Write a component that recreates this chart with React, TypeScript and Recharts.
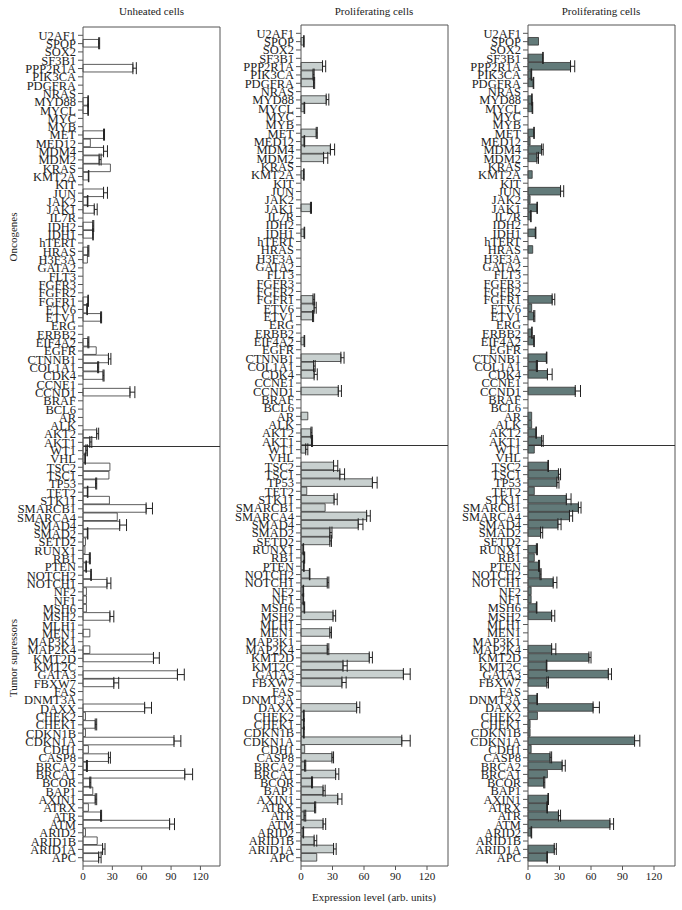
import React from "react";
import {
  BarChart,
  Bar,
  XAxis,
  YAxis,
  ErrorBar,
  ReferenceLine,
} from "recharts";

const GENES = [
  "U2AF1", "SPOP", "SOX2", "SF3B1", "PPP2R1A", "PIK3CA", "PDGFRA", "NRAS", "MYD88", "MYCL",
  "MYC", "MYB", "MET", "MED12", "MDM4", "MDM2", "KRAS", "KMT2A", "KIT", "JUN",
  "JAK2", "JAK1", "IL7R", "IDH2", "IDH1", "hTERT", "HRAS", "H3F3A", "GATA2", "FLT3",
  "FGFR3", "FGFR2", "FGFR1", "ETV6", "ETV1", "ERG", "ERBB2", "EIF4A2", "EGFR", "CTNNB1",
  "COL1A1", "CDK4", "CCNE1", "CCND1", "BRAF", "BCL6", "AR", "ALK", "AKT2", "AKT1",
  "WT1", "VHL", "TSC2", "TSC1", "TP53", "TET2", "STK11", "SMARCB1", "SMARCA4", "SMAD4",
  "SMAD2", "SETD2", "RUNX1", "RB1", "PTEN", "NOTCH2", "NOTCH1", "NF2", "NF1", "MSH6",
  "MSH2", "MLH1", "MEN1", "MAP3K1", "MAP2K4", "KMT2D", "KMT2C", "GATA3", "FBXW7", "FAS",
  "DNMT3A", "DAXX", "CHEK2", "CHEK1", "CDKN1B", "CDKN1A", "CDH1", "CASP8", "BRCA2", "BRCA1",
  "BCOR", "BAP1", "AXIN1", "ATRX", "ATR", "ATM", "ARID2", "ARID1B", "ARID1A", "APC",
];

const X_TICKS = [0, 30, 60, 90, 120];

// unheated cells
const UNHEATED = [
  0, 16, 0, 0, 51, 0, 0, 0, 5, 5,
  0, 0, 21, 7.5, 21, 16.5, 28, 5.5, 0, 21,
  4.5, 11.5, 0, 10, 10, 0, 5, 4.5, 0, 0,
  0, 0, 5, 4, 18, 0, 0, 5, 13.5, 26,
  15, 20.5, 0, 48, 0, 0, 0, 0, 14, 7,
  3, 2, 27.5, 26.5, 13, 4.5, 27, 64.5, 35, 37.5,
  4.5, 2.5, 2, 6.5, 3, 8, 24.5, 3.5, 3.5, 3.5,
  27.5, 0, 7, 0, 7, 72, 0, 96.5, 31.5, 0,
  0, 63, 2.5, 12.5, 2.5, 93, 5.5, 26, 3.5, 104,
  7, 10, 12.5, 5.5, 18, 88.5, 2.5, 14.5, 20, 16,
];
const UNHEATED_ERR = [
  0, 1, 0, 0, 3.5, 0, 0, 0, 0.5, 0.5,
  0, 0, 1, 0, 4, 2, 0, 0.5, 0, 4,
  0.5, 3, 0, 1, 0.5, 0, 1, 0, 0, 0,
  0, 0, 0.5, 0.5, 1, 0, 0, 1, 0, 2.5,
  1, 1, 0, 5, 0, 0, 0, 0, 2, 2,
  1.5, 0.5, 0, 0, 1, 0.5, 0, 6.5, 0, 7,
  0.5, 0, 0, 1, 0.5, 0.5, 4, 0, 0, 0,
  4, 0, 0, 0, 0, 6, 0, 7, 5, 0,
  0, 7, 0, 1.5, 0, 7, 0, 2, 1, 8,
  1, 0, 1.5, 0, 1, 5, 0, 0, 2.5, 2.5,
];

// proliferating cells (light)
const PROLIF_A = [
  0, 2.5, 0, 0, 20.5, 11.5, 12, 0, 24, 3,
  0, 0, 14.5, 3, 28, 21.5, 0, 2.5, 0, 0,
  0, 9, 0, 0, 3, 0, 0, 0, 0, 0,
  0, 0, 11.5, 12.5, 11, 0, 0, 3, 0, 38,
  12, 12.5, 0, 35.5, 0, 0, 6.5, 0, 9.5, 10,
  4.5, 0, 31, 37, 68, 5.5, 31.5, 23, 62.5, 54.5,
  27.5, 27.5, 2, 3, 2.5, 8, 25, 2, 2, 3,
  30.5, 0, 27.5, 0, 25, 65, 40, 97.5, 39, 0,
  0, 53, 2.5, 2.5, 2.5, 96, 3.5, 29.5, 3.5, 33,
  10, 21, 35, 13, 3, 21, 2, 12.5, 31, 15,
];
const PROLIF_A_ERR = [
  0, 0.5, 0, 0, 3, 1, 1, 0, 2.5, 0.5,
  0, 0, 1, 0.5, 4, 4, 0, 0.5, 0, 0,
  0, 1, 0, 0, 0.5, 0, 0, 0, 0, 0,
  0, 0, 1.5, 2, 1, 0, 0, 0.5, 0, 3,
  1.5, 3, 0, 3, 0, 0, 0, 0, 1, 1,
  2, 0, 4, 4.5, 4.5, 0, 3, 0, 3.5, 4.5,
  2, 1.5, 0.5, 0.5, 0.5, 0.5, 1.5, 0.5, 0.5, 0.5,
  2.5, 0, 1.5, 0, 1.5, 3, 4, 6.5, 4, 0,
  0, 3, 0.5, 0.5, 0.5, 8, 0, 1.5, 1, 3,
  1, 2, 4, 1, 1.5, 2.5, 0.5, 2.5, 2.5, 0,
];

// proliferating cells (dark)
const PROLIF_B = [
  0, 10, 0, 14, 40.5, 3, 5, 0, 3.5, 4,
  0, 0, 5.5, 2, 13, 8.5, 0, 4, 0, 31,
  2, 8.5, 2.5, 0, 7, 0, 4.5, 0, 0, 0,
  0, 0, 23, 3.5, 5.5, 0, 3.5, 5.5, 0, 17.5,
  8, 18.5, 0, 45, 0, 0, 3.5, 3.5, 7.5, 13,
  6, 0, 19, 29, 27.5, 6, 36.5, 48, 39.5, 28.5,
  12, 0, 8, 6, 10, 11.5, 24, 3, 3, 8,
  22.5, 0, 0, 0, 22.5, 58, 17.5, 76.5, 18, 0,
  8.5, 62, 9, 2, 2, 101.5, 3, 21, 32.5, 18.5,
  15, 0, 19, 18, 29, 78, 3, 0, 25, 18,
];
const PROLIF_B_ERR = [
  0, 0, 0, 0.5, 4, 0.5, 0.5, 0, 0.5, 0.5,
  0, 0, 0.5, 0, 1.5, 1.5, 0, 0, 0, 3,
  0, 0.5, 0.5, 0, 0.5, 0, 0, 0, 0, 0,
  0, 0, 2.5, 0, 1, 0, 0.5, 0.5, 0, 0.5,
  1, 4.5, 0, 5, 0, 0, 0, 0, 0.5, 1.5,
  0, 0, 0.5, 2, 2, 0, 4.5, 2.5, 3, 3,
  2, 0, 1, 0, 1, 1, 3.5, 0, 0, 0.5,
  3, 0, 0, 0, 4, 2, 0.5, 3, 1.5, 0,
  0.5, 6, 0, 0, 0, 5, 0, 1.5, 3, 0,
  1, 0, 0.5, 0.5, 2, 3.5, 0.5, 0, 2, 0.5,
];

const FONT = "'Liberation Serif', 'DejaVu Serif', serif";
const AXIS = "#555";
const TEXT = "#222";
const IDX = GENES.map((_, i) => i);

function buildRows(vals: number[], errs: number[]) {
  return GENES.map((g, i) => ({
    idx: i,
    gene: g,
    v: vals[i],
    e: errs[i] > 0 ? [0, errs[i]] : null,
  }));
}

interface PanelProps {
  vals: number[];
  errs: number[];
  fill: string;
  left: number;
  width: number;
  yWidth: number;
  top: number;
}

function Panel({ vals, errs, fill, left, width, yWidth, top }: PanelProps) {
  const rows = buildRows(vals, errs);
  return (
    <div style={{ position: "absolute", left, top: 0 }}>
      <BarChart
        width={width}
        height={890}
        data={rows}
        layout="vertical"
        margin={{ top, right: 2, left: 0, bottom: 4 }}
      >
        <XAxis
          type="number"
          dataKey="v"
          domain={[0, 140]}
          ticks={X_TICKS}
          height={20}
          tickSize={4}
          stroke={AXIS}
          tick={{ fill: TEXT, fontSize: 11, fontFamily: FONT }}
        />
        <YAxis
          type="number"
          dataKey="idx"
          domain={[-1, 100]}
          ticks={IDX}
          interval={0}
          width={yWidth}
          tickSize={5}
          stroke={AXIS}
          tickFormatter={(i: number) => GENES[i] ?? ""}
          tick={{ fill: TEXT, fontSize: 12.5, fontFamily: FONT }}
        />
        {/* frame: top + right */}
        <ReferenceLine y={-1} stroke={AXIS} strokeWidth={1} />
        <ReferenceLine x={140} stroke={AXIS} strokeWidth={1} />
        {/* oncogenes / tumor suppressors split */}
        <ReferenceLine y={49.5} stroke="#333" strokeWidth={1} />
        <Bar
          dataKey="v"
          fill={fill}
          stroke="#333"
          strokeWidth={0.8}
          barSize={7.6}
          isAnimationActive={false}
        >
          <ErrorBar
            dataKey="e"
            direction="x"
            width={6}
            stroke="#222"
            strokeWidth={1}
            isAnimationActive={false}
          />
        </Bar>
      </BarChart>
    </div>
  );
}

const titleStyle: React.CSSProperties = {
  position: "absolute",
  top: 4,
  width: 140,
  textAlign: "center",
  fontSize: 11,
  lineHeight: "14px",
  fontFamily: FONT,
  color: TEXT,
  whiteSpace: "nowrap",
};

const sideStyle: React.CSSProperties = {
  position: "absolute",
  left: 12.5,
  fontSize: 11,
  lineHeight: "14px",
  fontFamily: FONT,
  color: TEXT,
  whiteSpace: "nowrap",
  transform: "translate(-50%, -50%) rotate(-90deg)",
};

export default function App() {
  return (
    <div
      style={{
        position: "absolute",
        left: 0,
        top: 0,
        width: 682,
        height: 910,
        background: "#fff",
        fontFamily: FONT,
      }}
    >
      <Panel vals={UNHEATED} errs={UNHEATED_ERR} fill="#ffffff" left={0} width={222} yWidth={83} top={27} />
      <Panel vals={PROLIF_A} errs={PROLIF_A_ERR} fill="#c8d0cf" left={222} width={228} yWidth={79} top={25} />
      <Panel vals={PROLIF_B} errs={PROLIF_B_ERR} fill="#627a79" left={450} width={227} yWidth={78} top={25} />

      <div style={{ ...titleStyle, left: 151.5 - 70 }}>Unheated cells</div>
      <div style={{ ...titleStyle, left: 374 - 70 }}>Proliferating cells</div>
      <div style={{ ...titleStyle, left: 601 - 70 }}>Proliferating cells</div>

      <div style={{ ...sideStyle, top: 237 }}>Oncogenes</div>
      <div style={{ ...sideStyle, top: 658 }}>Tumor supressors</div>

      <div
        style={{
          position: "absolute",
          left: 374 - 90,
          top: 890,
          width: 180,
          textAlign: "center",
          fontSize: 11,
          lineHeight: "14px",
          fontFamily: FONT,
          color: TEXT,
        }}
      >
        Expression level (arb. units)
      </div>
    </div>
  );
}
